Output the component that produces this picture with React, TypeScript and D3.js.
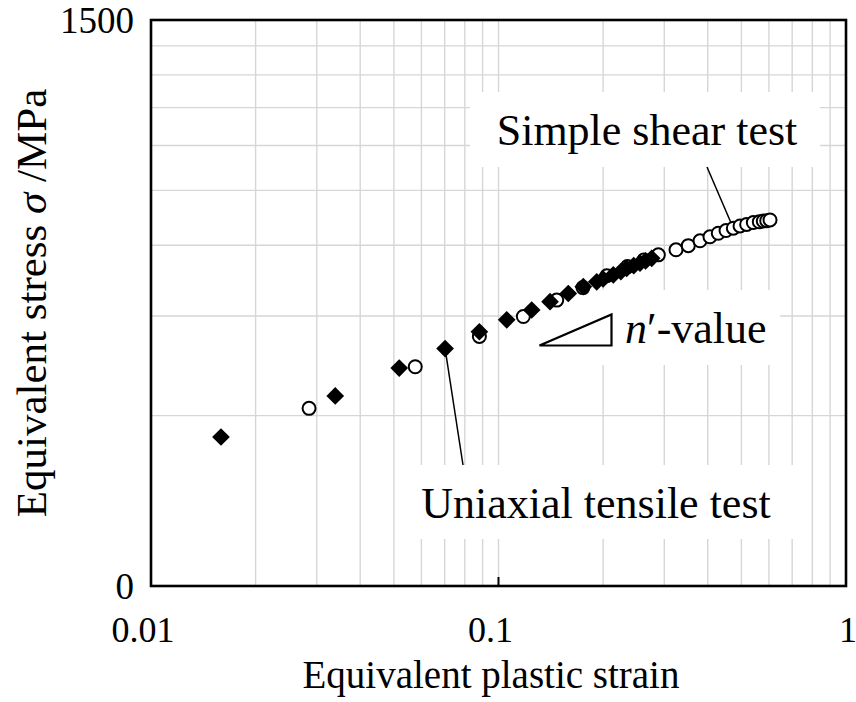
import React from "react";
import * as d3 from "d3";

const uniaxialStrain = [0.0159, 0.0339, 0.0518, 0.0702, 0.0881, 0.1056, 0.1246, 0.1407, 0.1588, 0.1754, 0.1917, 0.2, 0.214, 0.225, 0.2338, 0.245, 0.2554, 0.265, 0.276];
const uniaxialStress = [275, 325, 364, 394, 422, 443, 461, 477, 493, 507, 517, 523, 532, 539, 546, 552, 558, 563, 569];

const shearStrain = [0.0285, 0.0576, 0.0881, 0.1179, 0.1471, 0.175, 0.205, 0.235, 0.262, 0.2884, 0.3242, 0.3517, 0.3801, 0.406, 0.429, 0.4516, 0.474, 0.4955, 0.5178, 0.5411, 0.5629, 0.578, 0.5914, 0.6045];
const shearStress = [309, 366, 414, 449, 480, 505, 530, 550, 565, 577, 589, 599, 611, 621, 630, 637, 643, 649, 653, 658, 660, 662, 663, 665];

const xTickValues = [0.01, 0.1, 1];
const xTickLabels = ["0.01", "0.1", "1"];
const yTickValues = [150, 1500];
const yTickLabels = ["0", "1500"];

const FONT = "'Liberation Serif', 'Times New Roman', serif";

export default function App() {
  const W = 856, H = 702;
  const L = 151, R = 846, T = 20, B = 586;
  const x = d3.scaleLog().domain([0.01, 1]).range([L, R]);
  const y = d3.scaleLog().domain([150, 1500]).range([B, T]);

  const xGrid: number[] = [];
  for (const dec of [0.01, 0.1]) for (let k = 2; k <= 9; k++) xGrid.push(dec * k);
  xGrid.push(0.1);
  const yGrid: number[] = [];
  for (let k = 2; k <= 9; k++) yGrid.push(150 * k);

  const diamond = d3.symbol().type(d3.symbolDiamond2).size(200)();

  const shearPts = shearStrain.map((s, i) => [x(s), y(shearStress[i])]);
  const uniPts = uniaxialStrain.map((s, i) => [x(s), y(uniaxialStress[i])]);

  const shearLeadEnd = [x(0.474), y(643)];
  const uniLeadStart = [x(0.0702), y(394)];

  return (
    <svg width={W} height={H} style={{ position: "absolute", left: 0, top: 0 }} fontFamily={FONT}>
      <rect x={0} y={0} width={W} height={H} fill="#fff" />
      {/* grid */}
      {xGrid.map((g, i) => (
        <line key={"xg" + i} x1={x(g)} x2={x(g)} y1={T} y2={B} stroke="#d6d6d6" strokeWidth={1.4} />
      ))}
      {yGrid.map((g, i) => (
        <line key={"yg" + i} x1={L} x2={R} y1={y(g)} y2={y(g)} stroke="#d6d6d6" strokeWidth={1.4} />
      ))}

      {/* label boxes */}
      <rect x={470} y={92} width={350} height={75} fill="#fff" />
      <rect x={408} y={465} width={390} height={74} fill="#fff" />
      <rect x={528} y={290} width={252} height={75} fill="#fff" />

      {/* tick at 0.1 */}
      <line x1={x(0.1)} x2={x(0.1)} y1={B} y2={B - 9} stroke="#000" strokeWidth={2} />

      {/* leader lines */}
      <line x1={707} y1={167} x2={shearLeadEnd[0]} y2={shearLeadEnd[1]} stroke="#000" strokeWidth={1.5} />
      <line x1={uniLeadStart[0]} y1={uniLeadStart[1]} x2={463} y2={465} stroke="#000" strokeWidth={1.5} />

      {/* triangle */}
      <path d="M539.5,345.5 L611.5,345.5 L611.5,314.5 Z" fill="none" stroke="#000" strokeWidth={2.2} strokeLinejoin="miter" />

      {/* data */}
      {shearPts.map((p, i) => (
        <circle key={"c" + i} cx={p[0]} cy={p[1]} r={6.5} fill="#fff" stroke="#000" strokeWidth={2} />
      ))}
      {uniPts.map((p, i) => (
        <path key={"d" + i} d={diamond} transform={`translate(${p[0]},${p[1]})`} fill="#000" />
      ))}

      {/* frame */}
      <rect x={L} y={T} width={R - L} height={B - T} fill="none" stroke="#000" strokeWidth={2.6} />

      {/* tick labels */}
      {xTickValues.map((v, i) => (
        <text key={"xt" + i} x={x(v) - (i < 2 ? 8 : -2)} y={642} textAnchor="middle" fontSize={36} fill="#000">
          {xTickLabels[i]}
        </text>
      ))}
      {yTickValues.map((v, i) => (
        <text key={"yt" + i} x={134} y={y(v) + 13} textAnchor="end" fontSize={37} fill="#000">
          {yTickLabels[i]}
        </text>
      ))}

      {/* axis titles */}
      <text x={491} y={688} textAnchor="middle" fontSize={39} fill="#000">Equivalent plastic strain</text>
      <text transform="translate(46,303) rotate(-90)" textAnchor="middle" fontSize={43} fill="#000">
        Equivalent stress <tspan fontStyle="italic">σ</tspan>  /MPa
      </text>

      {/* annotations */}
      <text x={647} y={145} textAnchor="middle" fontSize={44} fill="#000">Simple shear test</text>
      <text x={596} y={518} textAnchor="middle" fontSize={44} fill="#000">Uniaxial tensile test</text>
      <text x={625} y={343} fontSize={44} fill="#000">
        <tspan fontStyle="italic">n</tspan>′-value
      </text>
    </svg>
  );
}
